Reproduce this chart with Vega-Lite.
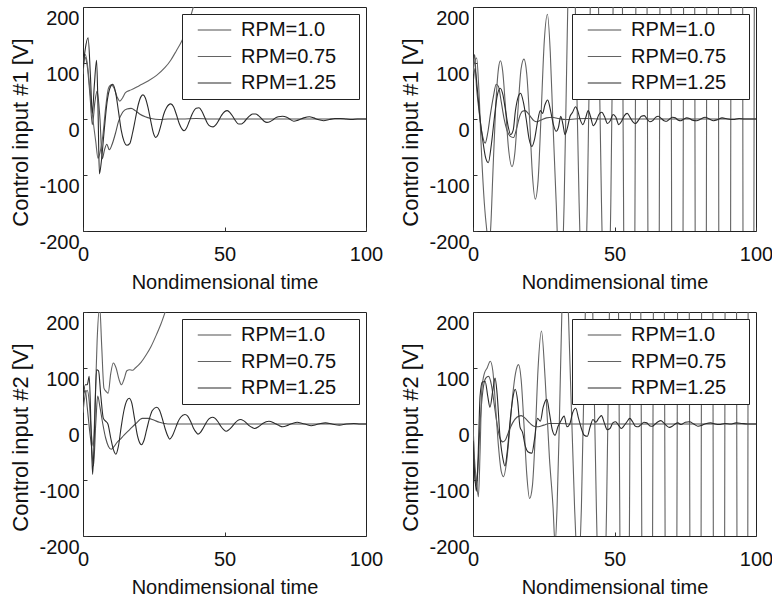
{
  "$schema": "https://vega.github.io/schema/vega-lite/v6.json",
  "padding": {"left": 9, "top": 6, "right": 0, "bottom": 0},
  "background": "white",
  "config": {
    "font": "Liberation Sans",
    "view": {"stroke": "#222", "strokeWidth": 1},
    "line": {"interpolate": "monotone"},
    "axis": {"grid": false, "domain": false, "labelFontSize": 20, "titleFontSize": 20, "titleFontWeight": "normal", "labelColor": "#111", "titleColor": "#111", "tickSize": -4, "tickColor": "#333"},
    "axisX": {"labelPadding": 17, "titlePadding": 8, "labelFlush": false},
    "axisY": {"labelPadding": 8, "titlePadding": 6, "labelOffset": 11, "titleFontSize": 22, "titleY": 125, "labelExpr": "datum.value < 0 ? '-' + abs(datum.value) : '' + datum.value"},
    "legend": {"orient": "top-right", "offset": 7, "fillColor": "white", "strokeColor": "#222", "padding": 6, "labelFontSize": 20, "labelColor": "#111", "symbolType": "M-2,0H2", "symbolSize": 280, "symbolStrokeWidth": 1.2, "rowPadding": 6.5, "labelOffset": 16.6, "symbolOffset": 16.5}
  },
  "datasets": {
    "p1": [
      {"s":"RPM=1.0","t":0,"v":80},{"s":"RPM=1.0","t":0.7,"v":110},{"s":"RPM=1.0","t":1.5,"v":95},{"s":"RPM=1.0","t":2.5,"v":40},{"s":"RPM=1.0","t":3.3,"v":-10},{"s":"RPM=1.0","t":4.2,"v":30},{"s":"RPM=1.0","t":5,"v":50},{"s":"RPM=1.0","t":6,"v":0},{"s":"RPM=1.0","t":6.8,"v":-71},{"s":"RPM=1.0","t":7.6,"v":-55},{"s":"RPM=1.0","t":8.4,"v":-45},{"s":"RPM=1.0","t":9.3,"v":-55},{"s":"RPM=1.0","t":10.3,"v":-45},{"s":"RPM=1.0","t":11.5,"v":-25},{"s":"RPM=1.0","t":12.5,"v":-5},{"s":"RPM=1.0","t":14,"v":12},{"s":"RPM=1.0","t":15.5,"v":18},{"s":"RPM=1.0","t":17,"v":19},{"s":"RPM=1.0","t":18.5,"v":15},{"s":"RPM=1.0","t":20,"v":9},{"s":"RPM=1.0","t":22,"v":4},{"s":"RPM=1.0","t":24,"v":1},{"s":"RPM=1.0","t":27,"v":-1},{"s":"RPM=1.0","t":30,"v":0},{"s":"RPM=1.0","t":35,"v":0},{"s":"RPM=1.0","t":40,"v":1},{"s":"RPM=1.0","t":45,"v":0},{"s":"RPM=1.0","t":100,"v":0},
      {"s":"RPM=0.75","t":0,"v":100},{"s":"RPM=0.75","t":0.8,"v":115},{"s":"RPM=0.75","t":1.5,"v":100},{"s":"RPM=0.75","t":2.5,"v":50},{"s":"RPM=0.75","t":3.5,"v":0},{"s":"RPM=0.75","t":4.5,"v":-40},{"s":"RPM=0.75","t":5.3,"v":-70},{"s":"RPM=0.75","t":6,"v":-60},{"s":"RPM=0.75","t":7,"v":-30},{"s":"RPM=0.75","t":8,"v":20},{"s":"RPM=0.75","t":9,"v":55},{"s":"RPM=0.75","t":10,"v":61},{"s":"RPM=0.75","t":11,"v":55},{"s":"RPM=0.75","t":12,"v":40},{"s":"RPM=0.75","t":13,"v":32},{"s":"RPM=0.75","t":14,"v":38},{"s":"RPM=0.75","t":15,"v":47},{"s":"RPM=0.75","t":17,"v":52},{"s":"RPM=0.75","t":20,"v":60},{"s":"RPM=0.75","t":23,"v":68},{"s":"RPM=0.75","t":26,"v":78},{"s":"RPM=0.75","t":29,"v":92},{"s":"RPM=0.75","t":31,"v":105},{"s":"RPM=0.75","t":33,"v":122},{"s":"RPM=0.75","t":35,"v":140},{"s":"RPM=0.75","t":37,"v":165},{"s":"RPM=0.75","t":39,"v":200},{"s":"RPM=0.75","t":40,"v":215},{"s":"RPM=0.75","t":42,"v":250},
      {"s":"RPM=1.25","t":0,"v":90},{"s":"RPM=1.25","t":0.8,"v":125},{"s":"RPM=1.25","t":1.8,"v":145},{"s":"RPM=1.25","t":2.6,"v":80},{"s":"RPM=1.25","t":3.3,"v":10},{"s":"RPM=1.25","t":4,"v":60},{"s":"RPM=1.25","t":4.8,"v":105},{"s":"RPM=1.25","t":5.3,"v":20},{"s":"RPM=1.25","t":5.8,"v":-98},{"s":"RPM=1.25","t":6.5,"v":-75},{"s":"RPM=1.25","t":7.5,"v":-20},{"s":"RPM=1.25","t":8.5,"v":30},{"s":"RPM=1.25","t":9.5,"v":55},{"s":"RPM=1.25","t":10.5,"v":62},{"s":"RPM=1.25","t":11.5,"v":48},{"s":"RPM=1.25","t":12.5,"v":15},{"s":"RPM=1.25","t":13.5,"v":-20},{"s":"RPM=1.25","t":14.5,"v":-40},{"s":"RPM=1.25","t":15.5,"v":-47},{"s":"RPM=1.25","t":16.5,"v":-44},{"s":"RPM=1.25","t":17.5,"v":-25},{"s":"RPM=1.25","t":18.5,"v":0},{"s":"RPM=1.25","t":19.5,"v":25},{"s":"RPM=1.25","t":20.5,"v":40},{"s":"RPM=1.25","t":21.2,"v":43},{"s":"RPM=1.25","t":22,"v":38},{"s":"RPM=1.25","t":23,"v":20},{"s":"RPM=1.25","t":24,"v":-5},{"s":"RPM=1.25","t":25,"v":-27},{"s":"RPM=1.25","t":25.7,"v":-33},{"s":"RPM=1.25","t":26.5,"v":-28},{"s":"RPM=1.25","t":27.5,"v":-12},{"s":"RPM=1.25","t":28.5,"v":8},{"s":"RPM=1.25","t":29.5,"v":20},{"s":"RPM=1.25","t":31,"v":27},{"s":"RPM=1.25","t":32,"v":22},{"s":"RPM=1.25","t":33,"v":8},{"s":"RPM=1.25","t":34,"v":-8},{"s":"RPM=1.25","t":35,"v":-18},{"s":"RPM=1.25","t":35.7,"v":-21},{"s":"RPM=1.25","t":36.5,"v":-17},{"s":"RPM=1.25","t":37.5,"v":-5},{"s":"RPM=1.25","t":38.5,"v":8},{"s":"RPM=1.25","t":40,"v":19},{"s":"RPM=1.25","t":41,"v":20},{"s":"RPM=1.25","t":42,"v":14},{"s":"RPM=1.25","t":43,"v":3},{"s":"RPM=1.25","t":44,"v":-8},{"s":"RPM=1.25","t":45,"v":-13},{"s":"RPM=1.25","t":46,"v":-14},{"s":"RPM=1.25","t":47,"v":-10},{"s":"RPM=1.25","t":48,"v":-2},{"s":"RPM=1.25","t":49,"v":7},{"s":"RPM=1.25","t":50,"v":13},{"s":"RPM=1.25","t":51,"v":15},{"s":"RPM=1.25","t":52,"v":11},{"s":"RPM=1.25","t":53,"v":4},{"s":"RPM=1.25","t":54,"v":-4},{"s":"RPM=1.25","t":55,"v":-9},{"s":"RPM=1.25","t":56,"v":-9},{"s":"RPM=1.25","t":57,"v":-5},{"s":"RPM=1.25","t":58,"v":1},{"s":"RPM=1.25","t":59,"v":6},{"s":"RPM=1.25","t":60,"v":9},{"s":"RPM=1.25","t":61,"v":9},{"s":"RPM=1.25","t":62,"v":6},{"s":"RPM=1.25","t":63,"v":1},{"s":"RPM=1.25","t":64,"v":-4},{"s":"RPM=1.25","t":65,"v":-6},{"s":"RPM=1.25","t":66,"v":-5},{"s":"RPM=1.25","t":67,"v":-2},{"s":"RPM=1.25","t":68,"v":2},{"s":"RPM=1.25","t":69,"v":4},{"s":"RPM=1.25","t":70.5,"v":5},{"s":"RPM=1.25","t":72,"v":3},{"s":"RPM=1.25","t":73,"v":0},{"s":"RPM=1.25","t":74.5,"v":-4},{"s":"RPM=1.25","t":76,"v":-2},{"s":"RPM=1.25","t":78,"v":2},{"s":"RPM=1.25","t":80,"v":4},{"s":"RPM=1.25","t":81.5,"v":2},{"s":"RPM=1.25","t":83,"v":-1},{"s":"RPM=1.25","t":85,"v":-3},{"s":"RPM=1.25","t":87,"v":-1},{"s":"RPM=1.25","t":89,"v":1},{"s":"RPM=1.25","t":91,"v":1},{"s":"RPM=1.25","t":93,"v":0},{"s":"RPM=1.25","t":95,"v":-1},{"s":"RPM=1.25","t":97,"v":0},{"s":"RPM=1.25","t":100,"v":0}
    ],
    "p2": [
      {"s":"RPM=1.0","t":0,"v":90},{"s":"RPM=1.0","t":0.6,"v":115},{"s":"RPM=1.0","t":1.2,"v":60},{"s":"RPM=1.0","t":2,"v":20},{"s":"RPM=1.0","t":3,"v":-20},{"s":"RPM=1.0","t":4.3,"v":-43},{"s":"RPM=1.0","t":5.2,"v":-25},{"s":"RPM=1.0","t":6.2,"v":10},{"s":"RPM=1.0","t":7.2,"v":40},{"s":"RPM=1.0","t":8.2,"v":62},{"s":"RPM=1.0","t":9,"v":58},{"s":"RPM=1.0","t":10,"v":30},{"s":"RPM=1.0","t":11,"v":0},{"s":"RPM=1.0","t":12,"v":-20},{"s":"RPM=1.0","t":13,"v":-30},{"s":"RPM=1.0","t":14.3,"v":-33},{"s":"RPM=1.0","t":15.5,"v":-15},{"s":"RPM=1.0","t":16.5,"v":5},{"s":"RPM=1.0","t":17.5,"v":14},{"s":"RPM=1.0","t":18.4,"v":15},{"s":"RPM=1.0","t":19.5,"v":10},{"s":"RPM=1.0","t":20.5,"v":3},{"s":"RPM=1.0","t":21.5,"v":-3},{"s":"RPM=1.0","t":22.5,"v":-5},{"s":"RPM=1.0","t":24,"v":-2},{"s":"RPM=1.0","t":26,"v":2},{"s":"RPM=1.0","t":28,"v":3},{"s":"RPM=1.0","t":30,"v":1},{"s":"RPM=1.0","t":33,"v":-1},{"s":"RPM=1.0","t":36,"v":0},{"s":"RPM=1.0","t":40,"v":1},{"s":"RPM=1.0","t":45,"v":0},{"s":"RPM=1.0","t":100,"v":0},
      {"s":"RPM=0.75","t":0,"v":80},{"s":"RPM=0.75","t":0.5,"v":100},{"s":"RPM=0.75","t":1.3,"v":109},{"s":"RPM=0.75","t":2,"v":60},{"s":"RPM=0.75","t":3,"v":-60},{"s":"RPM=0.75","t":4,"v":-150},{"s":"RPM=0.75","t":5,"v":-205},{"s":"RPM=0.75","t":5.6,"v":-230},{"s":"RPM=0.75","t":6.3,"v":-190},{"s":"RPM=0.75","t":7,"v":-100},{"s":"RPM=0.75","t":8,"v":20},{"s":"RPM=0.75","t":9,"v":90},{"s":"RPM=0.75","t":9.7,"v":104},{"s":"RPM=0.75","t":10.5,"v":85},{"s":"RPM=0.75","t":11.5,"v":20},{"s":"RPM=0.75","t":12.5,"v":-50},{"s":"RPM=0.75","t":13.8,"v":-85},{"s":"RPM=0.75","t":14.8,"v":-60},{"s":"RPM=0.75","t":15.8,"v":10},{"s":"RPM=0.75","t":17,"v":90},{"s":"RPM=0.75","t":18,"v":107},{"s":"RPM=0.75","t":19,"v":80},{"s":"RPM=0.75","t":20,"v":0},{"s":"RPM=0.75","t":21,"v":-100},{"s":"RPM=0.75","t":22,"v":-143},{"s":"RPM=0.75","t":23,"v":-110},{"s":"RPM=0.75","t":24,"v":0},{"s":"RPM=0.75","t":25.2,"v":140},{"s":"RPM=0.75","t":26.3,"v":187},{"s":"RPM=0.75","t":27.3,"v":120},{"s":"RPM=0.75","t":28.2,"v":0},{"s":"RPM=0.75","t":29.4,"v":-150},{"s":"RPM=0.75","t":30.8,"v":-320},{"s":"RPM=0.75","t":32.2,"v":-150},{"s":"RPM=0.75","t":33.3,"v":150},{"s":"RPM=0.75","t":34.9,"v":500},{"s":"RPM=0.75","t":36.5,"v":100},{"s":"RPM=0.75","t":37.5,"v":-150},{"s":"RPM=0.75","t":39,"v":-350},{"s":"RPM=0.75","t":40.4,"v":-150},{"s":"RPM=0.75","t":41.3,"v":150},{"s":"RPM=0.75","t":42.9,"v":800},{"s":"RPM=0.75","t":44.6,"v":100},{"s":"RPM=0.75","t":45.4,"v":-150},{"s":"RPM=0.75","t":47,"v":-420},{"s":"RPM=0.75","t":48.7,"v":-150},{"s":"RPM=0.75","t":49.5,"v":200},{"s":"RPM=0.75","t":51,"v":1200},{"s":"RPM=0.75","t":55.4,"v":-1500},{"s":"RPM=0.75","t":59.6,"v":1800},{"s":"RPM=0.75","t":64,"v":-2200},{"s":"RPM=0.75","t":68.1,"v":2600},{"s":"RPM=0.75","t":72.3,"v":-3000},{"s":"RPM=0.75","t":76.5,"v":3400},{"s":"RPM=0.75","t":80.5,"v":-3800},{"s":"RPM=0.75","t":84.7,"v":4200},{"s":"RPM=0.75","t":89,"v":-4600},{"s":"RPM=0.75","t":93.3,"v":5000},{"s":"RPM=0.75","t":97.5,"v":-5400},{"s":"RPM=0.75","t":100,"v":2000},
      {"s":"RPM=1.25","t":0,"v":60},{"s":"RPM=1.25","t":0.7,"v":90},{"s":"RPM=1.25","t":1.5,"v":55},{"s":"RPM=1.25","t":2.5,"v":0},{"s":"RPM=1.25","t":3.5,"v":-40},{"s":"RPM=1.25","t":4.5,"v":-70},{"s":"RPM=1.25","t":5.4,"v":-78},{"s":"RPM=1.25","t":6.5,"v":-45},{"s":"RPM=1.25","t":7.5,"v":0},{"s":"RPM=1.25","t":8.5,"v":40},{"s":"RPM=1.25","t":9.6,"v":55},{"s":"RPM=1.25","t":10.5,"v":45},{"s":"RPM=1.25","t":11.5,"v":15},{"s":"RPM=1.25","t":12.5,"v":-15},{"s":"RPM=1.25","t":13.3,"v":-28},{"s":"RPM=1.25","t":14.2,"v":-20},{"s":"RPM=1.25","t":15,"v":15},{"s":"RPM=1.25","t":16,"v":40},{"s":"RPM=1.25","t":16.8,"v":46},{"s":"RPM=1.25","t":17.8,"v":30},{"s":"RPM=1.25","t":18.8,"v":0},{"s":"RPM=1.25","t":19.8,"v":-35},{"s":"RPM=1.25","t":20.8,"v":-49},{"s":"RPM=1.25","t":21.8,"v":-35},{"s":"RPM=1.25","t":22.8,"v":-5},{"s":"RPM=1.25","t":23.8,"v":15},{"s":"RPM=1.25","t":24.6,"v":10},{"s":"RPM=1.25","t":25.4,"v":25},{"s":"RPM=1.25","t":26.4,"v":34},{"s":"RPM=1.25","t":27.4,"v":15},{"s":"RPM=1.25","t":28.4,"v":-10},{"s":"RPM=1.25","t":29.4,"v":-22},{"s":"RPM=1.25","t":30.2,"v":-15},{"s":"RPM=1.25","t":31,"v":5},{"s":"RPM=1.25","t":31.8,"v":-10},{"s":"RPM=1.25","t":32.5,"v":-28},{"s":"RPM=1.25","t":33.4,"v":-15},{"s":"RPM=1.25","t":34.3,"v":5},{"s":"RPM=1.25","t":35.2,"v":12},{"s":"RPM=1.25","t":36.2,"v":22},{"s":"RPM=1.25","t":37,"v":15},{"s":"RPM=1.25","t":37.8,"v":0},{"s":"RPM=1.25","t":38.8,"v":-10},{"s":"RPM=1.25","t":39.8,"v":2},{"s":"RPM=1.25","t":40.7,"v":15},{"s":"RPM=1.25","t":41.5,"v":5},{"s":"RPM=1.25","t":42.5,"v":-12},{"s":"RPM=1.25","t":43.5,"v":-5},{"s":"RPM=1.25","t":44.5,"v":8},{"s":"RPM=1.25","t":45.5,"v":12},{"s":"RPM=1.25","t":46.5,"v":4},{"s":"RPM=1.25","t":47.5,"v":-8},{"s":"RPM=1.25","t":48.5,"v":-3},{"s":"RPM=1.25","t":49.5,"v":8},{"s":"RPM=1.25","t":50.5,"v":3},{"s":"RPM=1.25","t":51.5,"v":-10},{"s":"RPM=1.25","t":52.5,"v":-4},{"s":"RPM=1.25","t":53.5,"v":6},{"s":"RPM=1.25","t":54.5,"v":10},{"s":"RPM=1.25","t":55.5,"v":3},{"s":"RPM=1.25","t":56.5,"v":-5},{"s":"RPM=1.25","t":57.5,"v":-8},{"s":"RPM=1.25","t":58.5,"v":-2},{"s":"RPM=1.25","t":59.5,"v":5},{"s":"RPM=1.25","t":60.5,"v":6},{"s":"RPM=1.25","t":61.5,"v":0},{"s":"RPM=1.25","t":62.5,"v":-5},{"s":"RPM=1.25","t":63.5,"v":-3},{"s":"RPM=1.25","t":64.5,"v":3},{"s":"RPM=1.25","t":65.5,"v":5},{"s":"RPM=1.25","t":66.5,"v":1},{"s":"RPM=1.25","t":67.5,"v":-3},{"s":"RPM=1.25","t":68.5,"v":-4},{"s":"RPM=1.25","t":69.5,"v":0},{"s":"RPM=1.25","t":70.5,"v":3},{"s":"RPM=1.25","t":71.5,"v":2},{"s":"RPM=1.25","t":72.5,"v":-2},{"s":"RPM=1.25","t":73.5,"v":-3},{"s":"RPM=1.25","t":74.5,"v":0},{"s":"RPM=1.25","t":75.5,"v":2},{"s":"RPM=1.25","t":76.5,"v":1},{"s":"RPM=1.25","t":77.5,"v":-2},{"s":"RPM=1.25","t":79,"v":-3},{"s":"RPM=1.25","t":80.5,"v":0},{"s":"RPM=1.25","t":82,"v":3},{"s":"RPM=1.25","t":83.5,"v":0},{"s":"RPM=1.25","t":85,"v":-3},{"s":"RPM=1.25","t":86.5,"v":-1},{"s":"RPM=1.25","t":88,"v":2},{"s":"RPM=1.25","t":90,"v":0},{"s":"RPM=1.25","t":92,"v":-1},{"s":"RPM=1.25","t":94,"v":1},{"s":"RPM=1.25","t":96,"v":0},{"s":"RPM=1.25","t":100,"v":0}
    ],
    "p3": [
      {"s":"RPM=1.0","t":0,"v":50},{"s":"RPM=1.0","t":0.8,"v":60},{"s":"RPM=1.0","t":1.5,"v":30},{"s":"RPM=1.0","t":2.3,"v":-10},{"s":"RPM=1.0","t":3,"v":-40},{"s":"RPM=1.0","t":3.7,"v":-75},{"s":"RPM=1.0","t":4.5,"v":0},{"s":"RPM=1.0","t":5.2,"v":50},{"s":"RPM=1.0","t":6,"v":30},{"s":"RPM=1.0","t":7,"v":0},{"s":"RPM=1.0","t":8,"v":-25},{"s":"RPM=1.0","t":9,"v":-40},{"s":"RPM=1.0","t":10,"v":-45},{"s":"RPM=1.0","t":11,"v":-40},{"s":"RPM=1.0","t":12,"v":-33},{"s":"RPM=1.0","t":13,"v":-28},{"s":"RPM=1.0","t":14.5,"v":-20},{"s":"RPM=1.0","t":16.5,"v":-10},{"s":"RPM=1.0","t":18.5,"v":0},{"s":"RPM=1.0","t":21,"v":10},{"s":"RPM=1.0","t":23,"v":10},{"s":"RPM=1.0","t":25,"v":7},{"s":"RPM=1.0","t":27,"v":3},{"s":"RPM=1.0","t":30,"v":0},{"s":"RPM=1.0","t":35,"v":0},{"s":"RPM=1.0","t":100,"v":0},
      {"s":"RPM=0.75","t":0,"v":20},{"s":"RPM=0.75","t":0.7,"v":50},{"s":"RPM=0.75","t":1.5,"v":60},{"s":"RPM=0.75","t":2.2,"v":40},{"s":"RPM=0.75","t":3,"v":-20},{"s":"RPM=0.75","t":3.6,"v":-40},{"s":"RPM=0.75","t":4.3,"v":40},{"s":"RPM=0.75","t":5,"v":150},{"s":"RPM=0.75","t":5.9,"v":210},{"s":"RPM=0.75","t":6.6,"v":140},{"s":"RPM=0.75","t":7.4,"v":64},{"s":"RPM=0.75","t":8.2,"v":58},{"s":"RPM=0.75","t":8.9,"v":55},{"s":"RPM=0.75","t":9.8,"v":90},{"s":"RPM=0.75","t":10.7,"v":109},{"s":"RPM=0.75","t":11.7,"v":100},{"s":"RPM=0.75","t":12.7,"v":80},{"s":"RPM=0.75","t":13.6,"v":70},{"s":"RPM=0.75","t":14.5,"v":80},{"s":"RPM=0.75","t":15.5,"v":95},{"s":"RPM=0.75","t":16.5,"v":97},{"s":"RPM=0.75","t":17.5,"v":96},{"s":"RPM=0.75","t":18.5,"v":100},{"s":"RPM=0.75","t":20.5,"v":110},{"s":"RPM=0.75","t":22.4,"v":124},{"s":"RPM=0.75","t":24,"v":138},{"s":"RPM=0.75","t":26,"v":160},{"s":"RPM=0.75","t":27.5,"v":178},{"s":"RPM=0.75","t":28.9,"v":198},{"s":"RPM=0.75","t":30,"v":215},{"s":"RPM=0.75","t":31,"v":235},
      {"s":"RPM=1.25","t":0,"v":40},{"s":"RPM=1.25","t":0.8,"v":70},{"s":"RPM=1.25","t":1.5,"v":70},{"s":"RPM=1.25","t":2.2,"v":85},{"s":"RPM=1.25","t":2.8,"v":0},{"s":"RPM=1.25","t":3.4,"v":-90},{"s":"RPM=1.25","t":4,"v":-20},{"s":"RPM=1.25","t":4.8,"v":97},{"s":"RPM=1.25","t":5.5,"v":95},{"s":"RPM=1.25","t":6.3,"v":50},{"s":"RPM=1.25","t":7.2,"v":10},{"s":"RPM=1.25","t":8,"v":5},{"s":"RPM=1.25","t":8.8,"v":0},{"s":"RPM=1.25","t":9.8,"v":-25},{"s":"RPM=1.25","t":10.7,"v":-45},{"s":"RPM=1.25","t":11.6,"v":-54},{"s":"RPM=1.25","t":12.5,"v":-40},{"s":"RPM=1.25","t":13.5,"v":-5},{"s":"RPM=1.25","t":14.5,"v":25},{"s":"RPM=1.25","t":15.5,"v":42},{"s":"RPM=1.25","t":16.3,"v":46},{"s":"RPM=1.25","t":17.2,"v":38},{"s":"RPM=1.25","t":18.2,"v":10},{"s":"RPM=1.25","t":19.2,"v":-20},{"s":"RPM=1.25","t":20.2,"v":-35},{"s":"RPM=1.25","t":20.7,"v":-37},{"s":"RPM=1.25","t":21.5,"v":-30},{"s":"RPM=1.25","t":22.5,"v":-10},{"s":"RPM=1.25","t":23.5,"v":10},{"s":"RPM=1.25","t":24.5,"v":24},{"s":"RPM=1.25","t":26,"v":30},{"s":"RPM=1.25","t":27,"v":25},{"s":"RPM=1.25","t":28,"v":10},{"s":"RPM=1.25","t":29,"v":-8},{"s":"RPM=1.25","t":30,"v":-22},{"s":"RPM=1.25","t":30.6,"v":-27},{"s":"RPM=1.25","t":31.5,"v":-22},{"s":"RPM=1.25","t":32.5,"v":-10},{"s":"RPM=1.25","t":33.5,"v":3},{"s":"RPM=1.25","t":34.5,"v":12},{"s":"RPM=1.25","t":36,"v":17},{"s":"RPM=1.25","t":37,"v":14},{"s":"RPM=1.25","t":38,"v":5},{"s":"RPM=1.25","t":39,"v":-7},{"s":"RPM=1.25","t":40,"v":-15},{"s":"RPM=1.25","t":40.6,"v":-18},{"s":"RPM=1.25","t":41.5,"v":-15},{"s":"RPM=1.25","t":42.5,"v":-7},{"s":"RPM=1.25","t":43.5,"v":2},{"s":"RPM=1.25","t":44.5,"v":9},{"s":"RPM=1.25","t":45.7,"v":12},{"s":"RPM=1.25","t":46.7,"v":10},{"s":"RPM=1.25","t":47.7,"v":4},{"s":"RPM=1.25","t":48.7,"v":-4},{"s":"RPM=1.25","t":49.7,"v":-10},{"s":"RPM=1.25","t":50.6,"v":-13},{"s":"RPM=1.25","t":51.6,"v":-10},{"s":"RPM=1.25","t":52.6,"v":-5},{"s":"RPM=1.25","t":53.6,"v":1},{"s":"RPM=1.25","t":54.6,"v":6},{"s":"RPM=1.25","t":55.7,"v":8},{"s":"RPM=1.25","t":56.7,"v":6},{"s":"RPM=1.25","t":57.7,"v":2},{"s":"RPM=1.25","t":58.7,"v":-3},{"s":"RPM=1.25","t":59.7,"v":-6},{"s":"RPM=1.25","t":60.6,"v":-8},{"s":"RPM=1.25","t":62,"v":-5},{"s":"RPM=1.25","t":63.5,"v":1},{"s":"RPM=1.25","t":65.7,"v":5},{"s":"RPM=1.25","t":67.5,"v":2},{"s":"RPM=1.25","t":69,"v":-2},{"s":"RPM=1.25","t":70.6,"v":-5},{"s":"RPM=1.25","t":72.5,"v":-2},{"s":"RPM=1.25","t":74,"v":1},{"s":"RPM=1.25","t":75.7,"v":3},{"s":"RPM=1.25","t":77.5,"v":1},{"s":"RPM=1.25","t":79,"v":-1},{"s":"RPM=1.25","t":80.6,"v":-3},{"s":"RPM=1.25","t":82.5,"v":-1},{"s":"RPM=1.25","t":84,"v":1},{"s":"RPM=1.25","t":85.7,"v":2},{"s":"RPM=1.25","t":88,"v":0},{"s":"RPM=1.25","t":90.6,"v":-2},{"s":"RPM=1.25","t":93,"v":0},{"s":"RPM=1.25","t":95.7,"v":1},{"s":"RPM=1.25","t":98,"v":0},{"s":"RPM=1.25","t":100,"v":0}
    ],
    "p4": [
      {"s":"RPM=1.0","t":0,"v":0},{"s":"RPM=1.0","t":0.5,"v":-80},{"s":"RPM=1.0","t":1,"v":-110},{"s":"RPM=1.0","t":1.6,"v":-90},{"s":"RPM=1.0","t":2.5,"v":0},{"s":"RPM=1.0","t":3.5,"v":60},{"s":"RPM=1.0","t":4.5,"v":82},{"s":"RPM=1.0","t":5.5,"v":85},{"s":"RPM=1.0","t":6.5,"v":70},{"s":"RPM=1.0","t":7.5,"v":35},{"s":"RPM=1.0","t":8.5,"v":0},{"s":"RPM=1.0","t":9.5,"v":-25},{"s":"RPM=1.0","t":10.5,"v":-32},{"s":"RPM=1.0","t":11.5,"v":-28},{"s":"RPM=1.0","t":12.5,"v":-15},{"s":"RPM=1.0","t":14,"v":2},{"s":"RPM=1.0","t":15.5,"v":12},{"s":"RPM=1.0","t":17,"v":15},{"s":"RPM=1.0","t":18.5,"v":10},{"s":"RPM=1.0","t":20,"v":2},{"s":"RPM=1.0","t":21.5,"v":-4},{"s":"RPM=1.0","t":23,"v":-5},{"s":"RPM=1.0","t":25,"v":-2},{"s":"RPM=1.0","t":27,"v":1},{"s":"RPM=1.0","t":30,"v":1},{"s":"RPM=1.0","t":35,"v":0},{"s":"RPM=1.0","t":100,"v":0},
      {"s":"RPM=0.75","t":0,"v":0},{"s":"RPM=0.75","t":0.5,"v":-60},{"s":"RPM=0.75","t":1.2,"v":-100},{"s":"RPM=0.75","t":1.9,"v":-130},{"s":"RPM=0.75","t":2.5,"v":-50},{"s":"RPM=0.75","t":3.1,"v":60},{"s":"RPM=0.75","t":4,"v":90},{"s":"RPM=0.75","t":5,"v":100},{"s":"RPM=0.75","t":6.1,"v":112},{"s":"RPM=0.75","t":7,"v":95},{"s":"RPM=0.75","t":8,"v":30},{"s":"RPM=0.75","t":9,"v":-40},{"s":"RPM=0.75","t":10,"v":-85},{"s":"RPM=0.75","t":10.8,"v":-94},{"s":"RPM=0.75","t":11.8,"v":-70},{"s":"RPM=0.75","t":12.8,"v":-20},{"s":"RPM=0.75","t":14,"v":50},{"s":"RPM=0.75","t":15,"v":90},{"s":"RPM=0.75","t":16.1,"v":106},{"s":"RPM=0.75","t":17,"v":80},{"s":"RPM=0.75","t":18,"v":0},{"s":"RPM=0.75","t":19,"v":-90},{"s":"RPM=0.75","t":20,"v":-133},{"s":"RPM=0.75","t":21,"v":-110},{"s":"RPM=0.75","t":22,"v":-20},{"s":"RPM=0.75","t":23,"v":100},{"s":"RPM=0.75","t":24.2,"v":166},{"s":"RPM=0.75","t":25.5,"v":80},{"s":"RPM=0.75","t":27,"v":-60},{"s":"RPM=0.75","t":28.3,"v":-150},{"s":"RPM=0.75","t":29,"v":-215},{"s":"RPM=0.75","t":29.7,"v":-150},{"s":"RPM=0.75","t":30.5,"v":0},{"s":"RPM=0.75","t":31.4,"v":200},{"s":"RPM=0.75","t":32.6,"v":330},{"s":"RPM=0.75","t":33.7,"v":200},{"s":"RPM=0.75","t":35.9,"v":-150},{"s":"RPM=0.75","t":37.1,"v":-260},{"s":"RPM=0.75","t":38.3,"v":-150},{"s":"RPM=0.75","t":39.5,"v":150},{"s":"RPM=0.75","t":41,"v":500},{"s":"RPM=0.75","t":42.5,"v":150},{"s":"RPM=0.75","t":43.6,"v":-150},{"s":"RPM=0.75","t":45.4,"v":-450},{"s":"RPM=0.75","t":47.2,"v":-150},{"s":"RPM=0.75","t":48.2,"v":200},{"s":"RPM=0.75","t":50,"v":900},{"s":"RPM=0.75","t":53.7,"v":-1200},{"s":"RPM=0.75","t":57.5,"v":1500},{"s":"RPM=0.75","t":61.7,"v":-1800},{"s":"RPM=0.75","t":65.7,"v":2100},{"s":"RPM=0.75","t":70,"v":-2400},{"s":"RPM=0.75","t":74.5,"v":2700},{"s":"RPM=0.75","t":78.7,"v":-3000},{"s":"RPM=0.75","t":82.8,"v":3300},{"s":"RPM=0.75","t":87,"v":-3600},{"s":"RPM=0.75","t":91.1,"v":3900},{"s":"RPM=0.75","t":95.4,"v":-4200},{"s":"RPM=0.75","t":99,"v":4500},{"s":"RPM=0.75","t":100,"v":3000},
      {"s":"RPM=1.25","t":0,"v":-30},{"s":"RPM=1.25","t":0.6,"v":-90},{"s":"RPM=1.25","t":1.2,"v":-120},{"s":"RPM=1.25","t":1.8,"v":-60},{"s":"RPM=1.25","t":2.5,"v":50},{"s":"RPM=1.25","t":3.3,"v":75},{"s":"RPM=1.25","t":4.3,"v":76},{"s":"RPM=1.25","t":5.2,"v":50},{"s":"RPM=1.25","t":6,"v":30},{"s":"RPM=1.25","t":7,"v":60},{"s":"RPM=1.25","t":7.8,"v":82},{"s":"RPM=1.25","t":8.5,"v":55},{"s":"RPM=1.25","t":9.5,"v":-20},{"s":"RPM=1.25","t":10.5,"v":-60},{"s":"RPM=1.25","t":11.3,"v":-75},{"s":"RPM=1.25","t":12.2,"v":-45},{"s":"RPM=1.25","t":13.2,"v":10},{"s":"RPM=1.25","t":14.2,"v":50},{"s":"RPM=1.25","t":14.9,"v":62},{"s":"RPM=1.25","t":15.8,"v":40},{"s":"RPM=1.25","t":16.6,"v":-5},{"s":"RPM=1.25","t":17.5,"v":-15},{"s":"RPM=1.25","t":18.5,"v":-40},{"s":"RPM=1.25","t":19.5,"v":-50},{"s":"RPM=1.25","t":20.8,"v":-52},{"s":"RPM=1.25","t":21.8,"v":-25},{"s":"RPM=1.25","t":22.8,"v":10},{"s":"RPM=1.25","t":23.8,"v":5},{"s":"RPM=1.25","t":24.8,"v":30},{"s":"RPM=1.25","t":26.1,"v":44},{"s":"RPM=1.25","t":27,"v":20},{"s":"RPM=1.25","t":28,"v":-10},{"s":"RPM=1.25","t":29,"v":-20},{"s":"RPM=1.25","t":30,"v":-5},{"s":"RPM=1.25","t":31,"v":5},{"s":"RPM=1.25","t":32.2,"v":14},{"s":"RPM=1.25","t":33.2,"v":-5},{"s":"RPM=1.25","t":34.2,"v":0},{"s":"RPM=1.25","t":35.2,"v":20},{"s":"RPM=1.25","t":36.3,"v":28},{"s":"RPM=1.25","t":37.3,"v":10},{"s":"RPM=1.25","t":38.3,"v":-8},{"s":"RPM=1.25","t":39.3,"v":-20},{"s":"RPM=1.25","t":40.4,"v":-22},{"s":"RPM=1.25","t":41.4,"v":-5},{"s":"RPM=1.25","t":42.4,"v":8},{"s":"RPM=1.25","t":43.4,"v":3},{"s":"RPM=1.25","t":44.4,"v":10},{"s":"RPM=1.25","t":45.4,"v":15},{"s":"RPM=1.25","t":46.4,"v":2},{"s":"RPM=1.25","t":47.4,"v":-10},{"s":"RPM=1.25","t":48.4,"v":-8},{"s":"RPM=1.25","t":49.4,"v":2},{"s":"RPM=1.25","t":50.4,"v":4},{"s":"RPM=1.25","t":51.4,"v":-2},{"s":"RPM=1.25","t":52.4,"v":-8},{"s":"RPM=1.25","t":53.4,"v":-3},{"s":"RPM=1.25","t":54.4,"v":4},{"s":"RPM=1.25","t":55.4,"v":10},{"s":"RPM=1.25","t":56.4,"v":4},{"s":"RPM=1.25","t":57.4,"v":-4},{"s":"RPM=1.25","t":58.4,"v":-5},{"s":"RPM=1.25","t":59.4,"v":-1},{"s":"RPM=1.25","t":60.4,"v":3},{"s":"RPM=1.25","t":61.4,"v":2},{"s":"RPM=1.25","t":62.4,"v":-3},{"s":"RPM=1.25","t":63.4,"v":-4},{"s":"RPM=1.25","t":64.4,"v":0},{"s":"RPM=1.25","t":65.4,"v":4},{"s":"RPM=1.25","t":66.4,"v":6},{"s":"RPM=1.25","t":67.4,"v":2},{"s":"RPM=1.25","t":68.4,"v":-3},{"s":"RPM=1.25","t":69.4,"v":-6},{"s":"RPM=1.25","t":70.4,"v":-4},{"s":"RPM=1.25","t":71.4,"v":0},{"s":"RPM=1.25","t":72.4,"v":2},{"s":"RPM=1.25","t":73.5,"v":-1},{"s":"RPM=1.25","t":75,"v":3},{"s":"RPM=1.25","t":76.5,"v":4},{"s":"RPM=1.25","t":78,"v":0},{"s":"RPM=1.25","t":79.5,"v":-4},{"s":"RPM=1.25","t":81,"v":-2},{"s":"RPM=1.25","t":82.5,"v":1},{"s":"RPM=1.25","t":84,"v":2},{"s":"RPM=1.25","t":85.5,"v":0},{"s":"RPM=1.25","t":87,"v":-1},{"s":"RPM=1.25","t":89,"v":1},{"s":"RPM=1.25","t":91,"v":0},{"s":"RPM=1.25","t":93,"v":2},{"s":"RPM=1.25","t":95,"v":1},{"s":"RPM=1.25","t":97,"v":0},{"s":"RPM=1.25","t":100,"v":0}
    ]
  },
  "resolve": {"legend": {"color": "independent"}},
  "spacing": 18,
  "vconcat": [
    {
      "resolve": {"legend": {"color": "independent"}},
      "spacing": 15,
      "hconcat": [
        {
          "width": 283, "height": 224,
          "data": {"name": "p1"},
          "mark": {"type": "line", "clip": true, "strokeWidth": 1.1},
          "encoding": {
            "x": {"field": "t", "type": "quantitative", "scale": {"domain": [0, 100], "nice": false}, "axis": {"values": [0, 50, 100], "title": "Nondimensional time"}},
            "y": {"field": "v", "type": "quantitative", "scale": {"domain": [-200, 200], "nice": false}, "axis": {"values": [-200, -100, 0, 100, 200], "title": "Control input #1 [V]"}},
            "color": {"field": "s", "type": "nominal", "scale": {"domain": ["RPM=1.0", "RPM=0.75", "RPM=1.25"], "range": ["#505050", "#636363", "#2a2a2a"]}, "legend": {"title": null, "labelExpr": "datum.label + '\u00a0\u00a0\u00a0\u200b'"}}
          }
        },
        {
          "width": 283, "height": 224,
          "data": {"name": "p2"},
          "mark": {"type": "line", "clip": true, "strokeWidth": 1.1},
          "encoding": {
            "x": {"field": "t", "type": "quantitative", "scale": {"domain": [0, 100], "nice": false}, "axis": {"values": [0, 50, 100], "title": "Nondimensional time"}},
            "y": {"field": "v", "type": "quantitative", "scale": {"domain": [-200, 200], "nice": false}, "axis": {"values": [-200, -100, 0, 100, 200], "title": "Control input #1 [V]"}},
            "color": {"field": "s", "type": "nominal", "scale": {"domain": ["RPM=1.0", "RPM=0.75", "RPM=1.25"], "range": ["#505050", "#636363", "#2a2a2a"]}, "legend": {"title": null, "labelExpr": "datum.label + '\u00a0\u00a0\u00a0\u200b'"}}
          }
        }
      ]
    },
    {
      "resolve": {"legend": {"color": "independent"}},
      "spacing": 15,
      "hconcat": [
        {
          "width": 283, "height": 224,
          "data": {"name": "p3"},
          "mark": {"type": "line", "clip": true, "strokeWidth": 1.1},
          "encoding": {
            "x": {"field": "t", "type": "quantitative", "scale": {"domain": [0, 100], "nice": false}, "axis": {"values": [0, 50, 100], "title": "Nondimensional time"}},
            "y": {"field": "v", "type": "quantitative", "scale": {"domain": [-200, 200], "nice": false}, "axis": {"values": [-200, -100, 0, 100, 200], "title": "Control input #2 [V]"}},
            "color": {"field": "s", "type": "nominal", "scale": {"domain": ["RPM=1.0", "RPM=0.75", "RPM=1.25"], "range": ["#505050", "#636363", "#2a2a2a"]}, "legend": {"title": null, "labelExpr": "datum.label + '\u00a0\u00a0\u00a0\u200b'"}}
          }
        },
        {
          "width": 283, "height": 224,
          "data": {"name": "p4"},
          "mark": {"type": "line", "clip": true, "strokeWidth": 1.1},
          "encoding": {
            "x": {"field": "t", "type": "quantitative", "scale": {"domain": [0, 100], "nice": false}, "axis": {"values": [0, 50, 100], "title": "Nondimensional time"}},
            "y": {"field": "v", "type": "quantitative", "scale": {"domain": [-200, 200], "nice": false}, "axis": {"values": [-200, -100, 0, 100, 200], "title": "Control input #2 [V]"}},
            "color": {"field": "s", "type": "nominal", "scale": {"domain": ["RPM=1.0", "RPM=0.75", "RPM=1.25"], "range": ["#505050", "#636363", "#2a2a2a"]}, "legend": {"title": null, "labelExpr": "datum.label + '\u00a0\u00a0\u00a0\u200b'"}}
          }
        }
      ]
    }
  ]
}
